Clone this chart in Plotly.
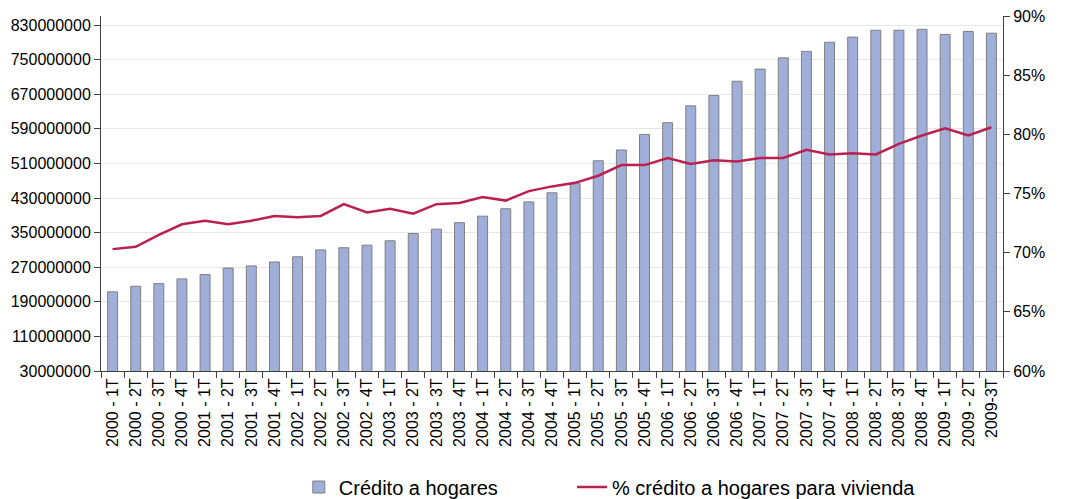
import plotly.graph_objects as go

# Datos
trimestres = [f"{a} - {t}T" for a in range(2000, 2010) for t in range(1, 5)][:38] + ["2009-3T"]

credito_hogares = [213e6, 226e6, 232e6, 243e6, 253e6, 268e6, 273e6, 282e6, 294e6, 310e6,
                   315e6, 321e6, 331e6, 348e6, 358e6, 373e6, 388e6, 405e6, 421e6, 442e6,
                   463e6, 516e6, 541e6, 577e6, 604e6, 643e6, 667e6, 700e6, 728e6, 754e6,
                   769e6, 790e6, 802e6, 818e6, 818e6, 820e6, 808e6, 815e6, 811e6]

pct_vivienda = [0.703, 0.705, 0.715, 0.724, 0.727, 0.724, 0.727, 0.731, 0.730, 0.731,
                0.741, 0.734, 0.737, 0.733, 0.741, 0.742, 0.747, 0.744, 0.752, 0.756,
                0.759, 0.765, 0.774, 0.774, 0.780, 0.775, 0.778, 0.777, 0.780, 0.780,
                0.787, 0.783, 0.784, 0.783, 0.792, 0.799, 0.805, 0.799, 0.806]

ticks_izq = list(range(30000000, 830000001, 80000000))
ticks_der = [0.60, 0.65, 0.70, 0.75, 0.80, 0.85, 0.90]

fig = go.Figure()
# Barras: credito total a hogares
fig.add_trace(go.Bar(x=trimestres, y=credito_hogares, name="Crédito a hogares",
                     marker=dict(color="#A0AEDA", line=dict(color="#7F7F7F", width=1)),
                     legend="legend"))
# Linea: porcentaje para vivienda (eje derecho)
fig.add_trace(go.Scatter(x=trimestres, y=pct_vivienda, name="% crédito a hogares para vivienda",
                         yaxis="y2", mode="lines", line=dict(color="#BA2150", width=2.5),
                         legend="legend2"))

# la pagina deja 8px de margen al div, se compensa aqui
fig.update_layout(
    width=1077, height=499,
    margin=dict(l=93, r=82, t=8, b=136),
    plot_bgcolor="white", paper_bgcolor="white",
    font=dict(family="Liberation Sans, Arial", size=16, color="#000000"),
    bargap=0.57,
    showlegend=True,
    legend=dict(orientation="h", x=0.270, xanchor="left", xref="container",
                y=0.04, yanchor="middle", yref="container", font=dict(size=20)),
    legend2=dict(orientation="h", x=0.5237, xanchor="left", xref="container",
                 y=0.04, yanchor="middle", yref="container", font=dict(size=20)),
    xaxis=dict(type="category", tickangle=-90, showline=True, linecolor="#404040",
               ticks="outside", ticklen=6, tickcolor="#404040", tickson="boundaries",
               showgrid=False, tickfont=dict(size=16), automargin=False),
    yaxis=dict(range=[30000000, 850800000], tickvals=ticks_izq,
               ticktext=[str(v) for v in ticks_izq], showline=True, linecolor="#404040",
               ticks="outside", ticklen=6, tickcolor="#404040", showgrid=True,
               gridcolor="#E6E6E6", gridwidth=1, zeroline=False, tickfont=dict(size=16),
               automargin=False, ticklabeloverflow="allow"),
    yaxis2=dict(overlaying="y", side="right", range=[0.6, 0.9], tickvals=ticks_der,
                tickformat=".0%", showline=True, linecolor="#404040", ticks="outside",
                ticklen=6, tickcolor="#404040", showgrid=False, zeroline=False,
                tickfont=dict(size=16), automargin=False, ticklabeloverflow="allow"),
)

fig.write_html("out.html")
